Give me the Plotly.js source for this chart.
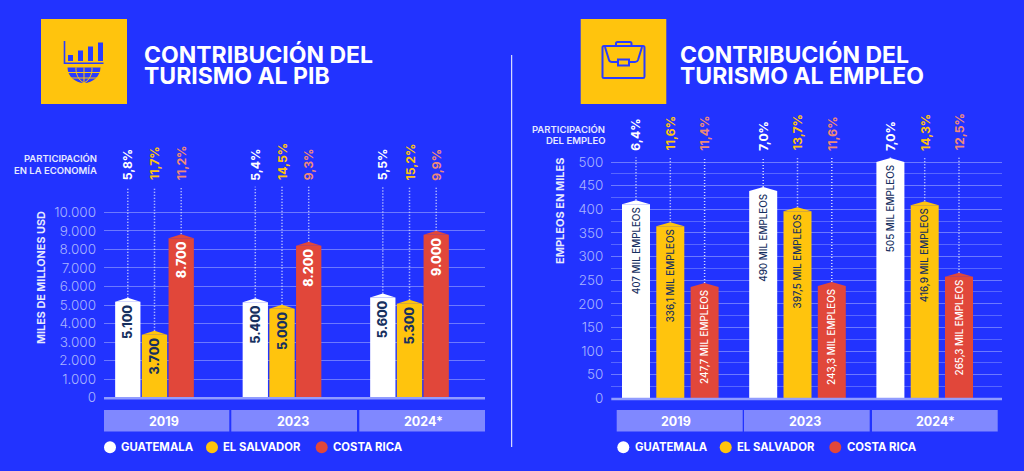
<!DOCTYPE html>
<html><head><meta charset="utf-8">
<script src="https://cdn.plot.ly/plotly-3.0.1.min.js"></script>
<style>html,body{margin:0;padding:0;background:#2233ff;overflow:hidden}#c{width:1024px;height:471px}</style>
</head><body><div id="c"></div>
<script>
// ---------- data ----------
const years = ['2019','2023','2024*'];
const countries = ['GUATEMALA','EL SALVADOR','COSTA RICA'];

const pibGuatemala = [5180,5150,5410];
const pibElSalvador = [3400,4800,5070];
const pibCostaRica = [8600,8200,8790];
const pibGuatemalaText = ['5.100','5.400','5.600'];
const pibElSalvadorText = ['3.700','5.000','5.300'];
const pibCostaRicaText = ['8.700','8.200','9.000'];
const pibGuatemalaPct = ['5,8%','5,4%','5,5%'];
const pibElSalvadorPct = ['11,7%','14,5%','15,2%'];
const pibCostaRicaPct = ['11,2%','9,3%','9,9%'];
const pibTicks = [0,1000,2000,3000,4000,5000,6000,7000,8000,9000,10000];
const pibTickText = ['0','1.000','2.000','3.000','4.000','5.000','6.000','7.000','8.000','9.000','10.000'];

const empGuatemala = [410.5,438.6,500];
const empElSalvador = [364,395.7,408.4];
const empCostaRica = [235.5,237.6,257.3];
const empGuatemalaText = ['407 MIL EMPLEOS','490 MIL EMPLEOS','505 MIL EMPLEOS'];
const empElSalvadorText = ['336,1 MIL EMPLEOS','397,5 MIL EMPLEOS','416,9 MIL EMPLEOS'];
const empCostaRicaText = ['247,7 MIL EMPLEOS','243,3 MIL EMPLEOS','265,3 MIL EMPLEOS'];
const empGuatemalaPct = ['6,4%','7,0%','7,0%'];
const empElSalvadorPct = ['11,6%','13,7%','14,3%'];
const empCostaRicaPct = ['11,4%','11,6%','12,5%'];
const empTicks = [0,50,100,150,200,250,300,350,400,450,500];

// ---------- style ----------
const BG='#2233ff', WHITE='#ffffff', YEL='#ffc40d', RED='#e1473a', NAVY='#17305f', BOX='#8088ff';
const FONT='Inter';
const W=1024,H=471;
const px=x=>x/W, py=y=>1-y/H;
const P=(x,y)=>px(x).toFixed(5)+' '+py(y).toFixed(5);

const panels=[
 {id:'',   left:104, right:485, zero:397.7, top:150, pxPerUnit:0.01854, center0:154.5, pitch:127.5, off:26.7, barW:25.3,
  series:[pibGuatemala,pibElSalvador,pibCostaRica], text:[pibGuatemalaText,pibElSalvadorText,pibCostaRicaText],
  pct:[pibGuatemalaPct,pibElSalvadorPct,pibCostaRicaPct], ticks:pibTicks, tickText:pibTickText, fs:12.5, lineTop:186.7, pctBottom:182.5, minor:null},
 {id:'2',  left:611.3, right:1002, zero:398.3, top:130, pxPerUnit:0.4726, center0:670.3, pitch:127.2, off:34.3, barW:28,
  series:[empGuatemala,empElSalvador,empCostaRica], text:[empGuatemalaText,empElSalvadorText,empCostaRicaText],
  pct:[empGuatemalaPct,empElSalvadorPct,empCostaRicaPct], ticks:empTicks, tickText:empTicks.map(String), fs:9.8, lineTop:157.5, pctBottom:152.7, minor:25}
];
const colors=[WHITE,YEL,RED], barTextColors=[NAVY,NAVY,WHITE], pctColors=[WHITE,YEL,'#ef8a78'];

const traces=[], annotations=[], shapes=[], layout={};
const ann=(x,y,text,o={})=>annotations.push(Object.assign({xref:'paper',yref:'paper',x:px(x),y:py(y),text,showarrow:false,
   xanchor:'left',yanchor:'middle',font:{family:FONT,size:11,color:WHITE,weight:700},borderpad:0,borderwidth:0},o));

panels.forEach(p=>{
  const xa='x'+p.id, ya='y'+p.id;
  const capH=4/p.pxPerUnit, half=(p.barW/2)/p.pitch, step=p.off/p.pitch;
  layout['xaxis'+p.id]={domain:[px(p.left),px(p.right)],range:[(p.left-p.center0)/p.pitch,(p.right-p.center0)/p.pitch],
    showgrid:false,zeroline:false,showticklabels:false,ticks:'',anchor:ya,fixedrange:true};
  const ymax=(p.zero-p.top)/p.pxPerUnit;
  const yax={domain:[py(p.zero),py(p.top)],range:[0,ymax],anchor:xa,tickmode:'array',tickvals:p.ticks,ticktext:p.tickText,
    showgrid:true,gridcolor:'#6c79ff',gridwidth:1,zeroline:false,ticks:'',ticklabelstandoff:7,showline:false,
    tickfont:{family:FONT,size:13.5,color:'#a9b4ff',weight:300},fixedrange:true,layer:'below traces'};
  if(p.minor) yax.minor={tickvals:p.ticks.slice(0,-1).map(v=>v+p.minor),showgrid:true,gridcolor:'#5766ff',gridwidth:1,ticks:''};
  layout['yaxis'+p.id]=yax;

  p.series.forEach((vals,s)=>{
    const xs=vals.map((_,i)=>i+(s-1)*step);
    // dotted leader lines
    const lx=[],ly=[],topVal=(p.zero-p.lineTop)/p.pxPerUnit;
    vals.forEach((v,i)=>{lx.push(xs[i],xs[i],null);ly.push(v+capH,topVal,null);});
    traces.push({type:'scatter',mode:'lines',x:lx,y:ly,xaxis:xa,yaxis:ya,line:{color:'#d5dbff',width:1.5,dash:'1px 2px'},hoverinfo:'skip',showlegend:false});
    // bars
    traces.push({type:'bar',name:countries[s],x:xs,y:vals,width:vals.map(()=>half*2),xaxis:xa,yaxis:ya,marker:{color:colors[s],line:{width:0}},
      text:p.text[s],textposition:'inside',textangle:-90,insidetextanchor:'end',constraintext:'none',
      insidetextfont:{family:FONT,size:p.fs,color:barTextColors[s],weight:p.id?500:800},cliponaxis:false,showlegend:false,hoverinfo:'x+y'});
    // pointed tops
    const cx=[],cy=[];
    vals.forEach((v,i)=>{cx.push(xs[i]-half,xs[i],xs[i]+half,xs[i]-half,null);cy.push(v,v+capH,v,v,null);});
    traces.push({type:'scatter',mode:'lines',x:cx,y:cy,xaxis:xa,yaxis:ya,fill:'toself',fillcolor:colors[s],line:{width:0,color:colors[s]},hoverinfo:'skip',showlegend:false});
    // percentages
    vals.forEach((v,i)=>annotations.push({xref:xa,yref:'paper',x:xs[i],y:py(p.pctBottom),text:p.pct[s][i],textangle:-90,showarrow:false,
       xanchor:'center',yanchor:'bottom',font:{family:FONT,size:12.2,color:pctColors[s],weight:700}}));
  });
  // base line over the bars
  shapes.push({type:'line',layer:'above',xref:'paper',yref:'paper',x0:px(p.left),x1:px(p.right),y0:py(p.zero+0.6),y1:py(p.zero+0.6),line:{color:'#919cff',width:2.5}});
});

// year boxes
const boxes=[[104,229.3,163.5],[231.3,357,292.5],[359.3,485,423.5],[616.7,742.7,676],[744,869.7,805],[872,997.7,935.7]];
boxes.forEach((b,i)=>{
  shapes.push({type:'rect',xref:'paper',yref:'paper',x0:px(b[0]),x1:px(b[1]),y0:py(410),y1:py(431.5),fillcolor:BOX,line:{width:0}});
  ann(b[2],421,years[i%3],{xanchor:'center',font:{family:FONT,size:12.5,color:WHITE,weight:700}});
});
// legends
[[110,121,212,223.3,321.7,333.3],[623.3,635,725.7,737,835.3,847]].forEach(l=>{
  [0,1,2].forEach(k=>{
    const cx=l[k*2],tx=l[k*2+1];
    shapes.push({type:'circle',xref:'paper',yref:'paper',x0:px(cx-6),x1:px(cx+6),y0:py(453.3),y1:py(441.3),fillcolor:colors[k],line:{width:0}});
    ann(tx,447.3,countries[k],{font:{family:FONT,size:11.3,color:WHITE,weight:700}});
  });
});
// divider
shapes.push({type:'line',xref:'paper',yref:'paper',x0:px(511.7),x1:px(511.7),y0:py(55),y1:py(447),line:{color:'#ffffff',width:1}});

// titles
const tf={font:{family:FONT,size:23,color:WHITE,weight:700}};
ann(144,55,'CONTRIBUCIÓN DEL',tf);
ann(144,76.5,'TURISMO AL PIB',tf);
ann(680,55,'CONTRIBUCIÓN DEL',tf);
ann(680,76.5,'TURISMO AL EMPLEO',tf);

// small captions
const cap={font:{family:FONT,size:9.5,color:'#e6e9ff',weight:600},xanchor:'right'};
ann(96.5,159,'PARTICIPACIÓN',cap); ann(96.5,170.3,'EN LA ECONOMÍA',cap);
ann(604.5,129.3,'PARTICIPACIÓN',cap); ann(604.5,140.5,'DEL EMPLEO',cap);
ann(41,278,'MILES DE MILLONES USD',{textangle:-90,xanchor:'center',font:{family:FONT,size:10.8,color:'#e6e9ff',weight:700}});
ann(559.5,211.5,'EMPLEOS EN MILES',{textangle:-90,xanchor:'center',font:{family:FONT,size:11,color:'#e6e9ff',weight:700}});

// icon tiles
const ICON='#2a3cff';
[[41,127],[580.7,666.3]].forEach(t=>shapes.push({type:'rect',xref:'paper',yref:'paper',x0:px(t[0]),x1:px(t[1]),y0:py(104),y1:py(19),fillcolor:YEL,line:{width:0}}));
const path=(d,o={})=>shapes.push(Object.assign({type:'path',xref:'paper',yref:'paper',path:d,line:{color:ICON,width:1.6}},o));
const rectPath=(a,b,c,d)=>`M${P(a,b)} L${P(c,b)} L${P(c,d)} L${P(a,d)} Z`;
// chart + globe icon
path(`M${P(64.5,41)} L${P(64.5,63.3)} L${P(103.5,63.3)}`);
[[68,55,73,61],[78,50.5,83,61],[88,46.5,93,61],[98,42.5,103,61]].forEach(b=>path(rectPath(b[0],b[1],b[2],b[3]),{fillcolor:ICON,line:{width:0}}));
path(`M${P(67.5,67.5)} L${P(100.5,67.5)} C${P(100.5,76)} ${P(93,83)} ${P(84,83)} C${P(75,83)} ${P(67.5,76)} ${P(67.5,67.5)} Z`,{fillcolor:ICON,line:{width:0}});
const gl={color:YEL,width:1};
path(`M${P(68,72.5)} L${P(100,72.5)}`,{line:gl});
path(`M${P(71,78)} L${P(97,78)}`,{line:gl});
path(`M${P(84,67.5)} L${P(84,83)}`,{line:gl});
path(`M${P(76,67.5)} C${P(75.5,73)} ${P(78,80)} ${P(84,83)}`,{line:gl});
path(`M${P(92,67.5)} C${P(92.5,73)} ${P(90,80)} ${P(84,83)}`,{line:gl});
// briefcase icon
const bw={color:ICON,width:2};
path(`M${P(604,46)} L${P(643,46)} C${P(644,46)} ${P(644.5,46.5)} ${P(644.5,47.5)} L${P(644.5,76.5)} C${P(644.5,77.5)} ${P(644,78)} ${P(643,78)} L${P(604,78)} C${P(603,78)} ${P(602.5,77.5)} ${P(602.5,76.5)} L${P(602.5,47.5)} C${P(602.5,46.5)} ${P(603,46)} ${P(604,46)} Z`,{line:bw});
path(`M${P(616,46)} L${P(616,43.5)} C${P(616,42.5)} ${P(616.5,42)} ${P(617.5,42)} L${P(630,42)} C${P(631,42)} ${P(631.5,42.5)} ${P(631.5,43.5)} L${P(631.5,46)}`,{line:bw});
path(`M${P(605,47)} L${P(609,60)} C${P(609.5,61.5)} ${P(610,62)} ${P(612,62)} L${P(618,62)}`,{line:bw});
path(`M${P(642,47)} L${P(638,60)} C${P(637.5,61.5)} ${P(637,62)} ${P(635,62)} L${P(629,62)}`,{line:bw});
path(rectPath(618,59.5,629,65.5),{line:bw});

Object.assign(layout,{width:W,height:H,margin:{l:0,r:0,t:0,b:0},paper_bgcolor:BG,plot_bgcolor:BG,barmode:'overlay',
  showlegend:false,annotations,shapes,font:{family:FONT,color:WHITE}});
Plotly.newPlot('c',traces,layout,{displayModeBar:false,responsive:false});
</script></body></html>
